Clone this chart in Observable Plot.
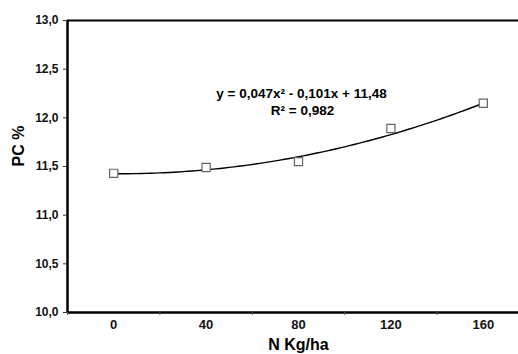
<!DOCTYPE html>
<html>
<head>
<meta charset="utf-8">
<script src="https://cdn.jsdelivr.net/npm/d3@7"></script>
<script src="https://cdn.jsdelivr.net/npm/@observablehq/plot@0.6"></script>
<style>
  html, body { margin: 0; padding: 0; background: #fff; }
  #chart { width: 518px; height: 354px; overflow: hidden; }
  svg { font-family: "Liberation Sans", Arial, sans-serif; }
</style>
</head>
<body>
<div id="chart"></div>
<script>
// ---- data ----
const doses = [0, 40, 80, 120, 160];              // N Kg/ha
const pcValues = [11.43, 11.49, 11.55, 11.89, 12.15]; // PC %
const yTicks = [10, 10.5, 11, 11.5, 12, 12.5, 13];
const xTickLabels = ["0", "40", "80", "120", "160"];
const trendCoefs = [0.047, -0.101, 11.48];        // a, b, c of y = a x² + b x + c (x = category index 1..5)
const equationLines = ["y = 0,047x² - 0,101x + 11,48", "R² = 0,982"];

// trendline drawn from the chart's own equation
const curve = d3.range(0, 160.01, 2).map(n => {
  const i = n / 40 + 1;
  return {n, v: trendCoefs[0] * i * i + trendCoefs[1] * i + trendCoefs[2]};
});
const points = doses.map((d, i) => ({n: d, v: pcValues[i]}));
const fmt = d => d.toFixed(1).replace(".", ",");

const chart = Plot.plot({
  width: 518,
  height: 354,
  marginLeft: 67,
  marginTop: 20,
  marginBottom: 42,
  marginRight: 0,
  style: {fontFamily: '"Liberation Sans", Arial, sans-serif', background: "#fff", overflow: "visible"},
  x: {type: "linear", domain: [-20, 180], range: [67, 529]},
  y: {domain: [10, 13]},
  marks: [
    // frame (top, left, bottom)
    Plot.ruleY([13], {x1: -20, x2: 180, stroke: "#000", strokeWidth: 2}),
    Plot.ruleY([10], {x1: -20, x2: 180, stroke: "#000", strokeWidth: 2.5}),
    Plot.ruleX([-20], {y1: 10, y2: 13, stroke: "#000", strokeWidth: 2.5}),
    // y axis
    Plot.axisY(yTicks, {anchor: "left", tickFormat: fmt, tickSize: 4, tickPadding: 5,
      fontSize: 12, fontWeight: "bold", stroke: "#333", fill: "#111", label: null}),
    // x minor ticks at category boundaries
    Plot.axisX([-20, 20, 60, 100, 140], {anchor: "bottom", tickSize: 3, tickFormat: () => "", label: null, stroke: "#555"}),
    // x labels
    Plot.axisX(doses, {anchor: "bottom", tickSize: 0, tickPadding: 7,
      tickFormat: (d) => xTickLabels[doses.indexOf(d)], fontSize: 13, fontWeight: "bold", fill: "#111", label: null}),
    // axis titles
    Plot.text(["PC %"], {frameAnchor: "left", dx: -49, rotate: -90, fontSize: 16, fontWeight: "bold", fill: "#000"}),
    Plot.text(["N Kg/ha"], {x: () => 80, y: () => 10, dy: 32, fontSize: 16, fontWeight: "bold", fill: "#000"}),
    // trendline
    Plot.line(curve, {x: "n", y: "v", stroke: "#000", strokeWidth: 1.4, curve: "natural"}),
    // data points
    Plot.dot(points, {x: "n", y: "v", symbol: "square", r: 4.6, fill: "#fff", stroke: "#666", strokeWidth: 1.2}),
    // equation
    Plot.text([equationLines[0]], {x: () => 80, y: () => 12.25, dx: 3, fontSize: 13.5, fontWeight: "bold", fill: "#000"}),
    Plot.text([equationLines[1]], {x: () => 80, y: () => 12.075, dx: 4, fontSize: 13.5, fontWeight: "bold", fill: "#000"})
  ]
});
document.getElementById("chart").appendChild(chart);
</script>
</body>
</html>
